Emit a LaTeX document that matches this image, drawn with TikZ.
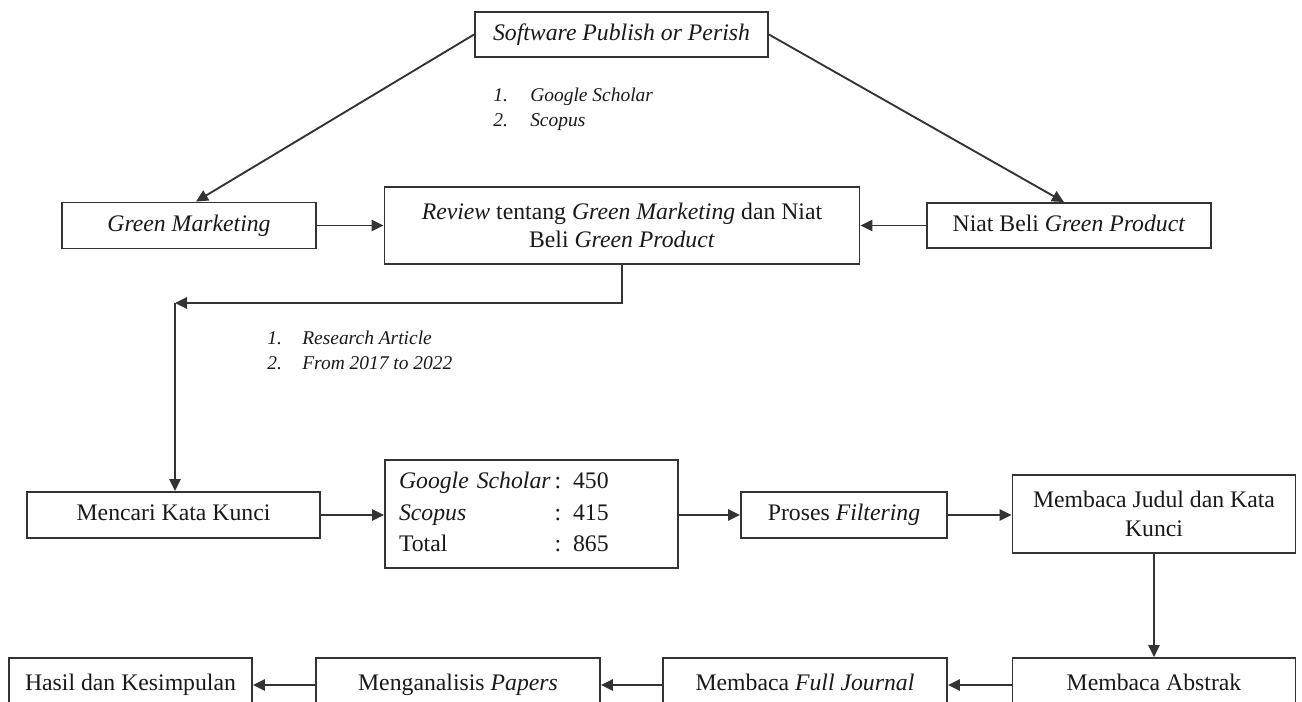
\documentclass[tikz,border=0pt]{standalone}
\usepackage{fontspec}
\setmainfont{Liberation Serif}
\usetikzlibrary{arrows.meta}

\begin{document}
\begin{tikzpicture}[x=0.75pt,y=-0.75pt,
  box/.style={draw=black!80,line width=1.4pt,inner sep=0pt,minimum height=34.5pt,align=center,text=black!90,font=\fontsize{17.8}{21.5}\selectfont},
  baris/.style={text height=12.5pt,text depth=4pt},
  lst/.style={anchor=west,align=left,inner sep=0pt,text=black!90,font=\fontsize{14.6}{18.75}\selectfont\itshape},
  arr/.style={draw=black!80,line width=1.4pt,-{Triangle[length=9pt,width=8.5pt]}}]
\useasboundingbox (0,0) rectangle (1302,702);
\clip (0,0) rectangle (1302,702);
\node[box,baris,minimum width=219.75pt,minimum height=33.75pt] (spop) at (621.5,34.5) {\textit{Software Publish or Perish}};
\node[lst] (sumber) at (493,109.5) {\makebox[27.75pt][l]{1.}Google Scholar\\\makebox[27.75pt][l]{2.}Scopus};
\node[box,baris,minimum width=190.5pt] (gm) at (189,225.5) {\textit{Green Marketing}};
\node[box,minimum width=356.25pt,minimum height=57.75pt] (review) at (622,225.5) {\textit{Review} tentang \textit{Green Marketing} dan Niat\\Beli \textit{Green Product}};
\node[box,baris,minimum width=213pt,minimum height=33.75pt] (niat) at (1069,225.5) {Niat Beli \textit{Green Product}};
\coordinate (belok) at (175,303);
\node[lst] (kriteria) at (267,350.5) {\makebox[26.25pt][l]{1.}Research Article\\\makebox[26.25pt][l]{2.}From 2017 to 2022};
\node[box,baris,minimum width=219.75pt] (mencari) at (173.5,515) {Mencari Kata Kunci};
\node[box,minimum width=219.75pt,minimum height=81pt,text width=198.75pt,align=left,inner xsep=10.5pt] (hasilcari) at (531.5,514) {\renewcommand{\arraystretch}{1.1}\begin{tabular}{@{}l@{\,}l@{}}\textit{Google Scholar} & : 450\\\textit{Scopus} & : 415\\Total & : 865\end{tabular}};
\node[box,baris,minimum width=154.5pt] (filter) at (844,515) {Proses \textit{Filtering}};
\node[box,minimum width=212.25pt,minimum height=58.5pt] (judul) at (1154,514) {Membaca Judul dan Kata\\Kunci};
\node[box,baris,minimum width=212.25pt,minimum height=40.5pt] (abstrak) at (1154,685) {Membaca Abstrak};
\node[box,baris,minimum width=213pt,minimum height=40.5pt] (full) at (805,685) {Membaca \textit{Full Journal}};
\node[box,baris,minimum width=213pt,minimum height=40.5pt] (analisis) at (458,685) {Menganalisis \textit{Papers}};
\node[box,baris,minimum width=182.25pt,minimum height=40.5pt] (simpulan) at (130.5,685) {Hasil dan Kesimpulan};
\draw[arr] (spop.west) -- ([xshift=5.25pt]gm.north);
\draw[arr] (spop.east) -- ([xshift=-3.75pt]niat.north);
\draw[arr] (gm.east) -- (review.west);
\draw[arr] (niat.west) -- (review.east);
\draw[arr] (review.south) |- (belok);
\draw[arr] (belok) -- (belok |- mencari.north);
\draw[arr] (mencari.east) -- (hasilcari.west |- mencari.east);
\draw[arr] (hasilcari.east |- filter.west) -- (filter.west);
\draw[arr] (filter.east) -- (judul.west |- filter.east);
\draw[arr] (judul.south) -- (abstrak.north);
\draw[arr] (abstrak.west) -- (full.east);
\draw[arr] (full.west) -- (analisis.east);
\draw[arr] (analisis.west) -- (simpulan.east);
\end{tikzpicture}
\end{document}
